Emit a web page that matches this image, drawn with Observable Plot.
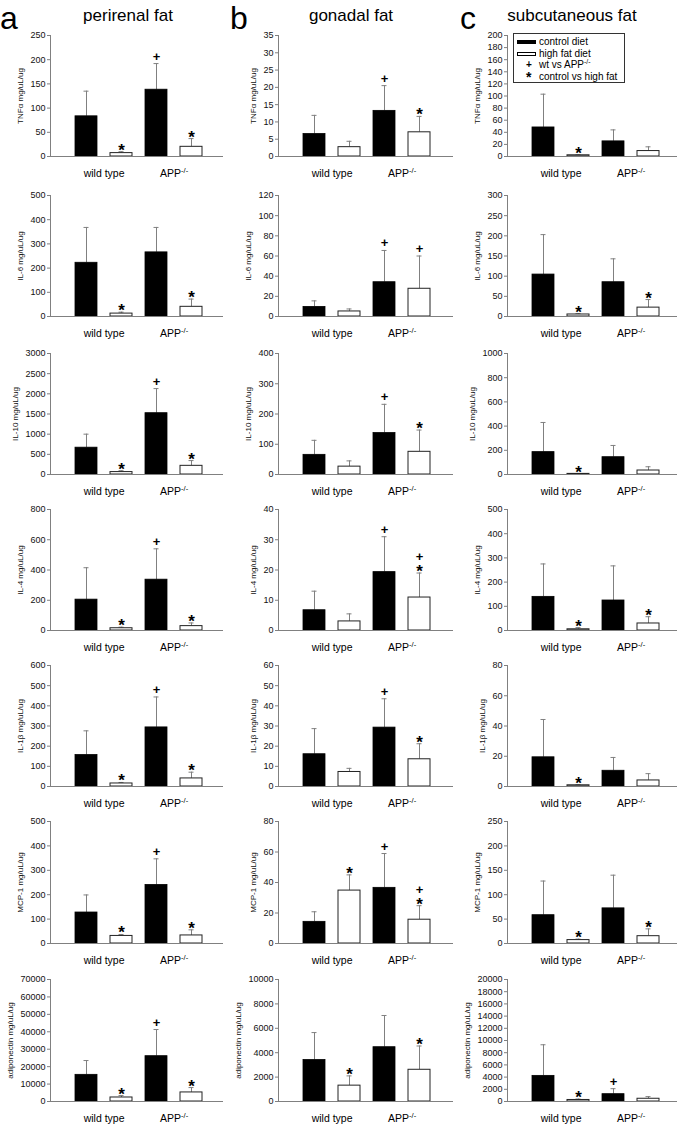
<!DOCTYPE html>
<html><head><meta charset="utf-8">
<script src="https://cdn.jsdelivr.net/npm/d3@7"></script>
<script src="https://cdn.jsdelivr.net/npm/@observablehq/plot@0.6"></script>
<style>
html,body{margin:0;padding:0;background:#fff;}
#fig{position:relative;width:685px;height:1124px;font-family:"Liberation Sans",Arial,sans-serif;color:#000;overflow:hidden;background:#fff;}
.letter{position:absolute;top:0;font-size:32px;line-height:normal;}
.title{position:absolute;font-size:17px;line-height:1;white-space:nowrap;transform:translateX(-50%);}
#fig svg{position:absolute;overflow:visible;}
.legend{position:absolute;border:1px solid #333;background:#fff;font-size:10px;line-height:11.5px;box-sizing:border-box;padding:2px 0 0 0;}
.legend .row{position:relative;height:11.5px;white-space:nowrap;}
.legend .sw{position:absolute;left:3px;top:4px;width:19px;height:4px;box-sizing:border-box;border:1px solid #000;}
.legend .sym{position:absolute;left:12px;top:0;font-weight:bold;}
.legend .txt{position:absolute;left:25px;top:0;}
.legend sup{font-size:7px;vertical-align:4px;line-height:0;}
</style></head><body><div id="fig"></div><script>
const tissues = ["perirenal fat", "gonadal fat", "subcutaneous fat"];
const panelLetters = ["a", "b", "c"];
const analytes = ["TNFα", "IL-6", "IL-10", "IL-4", "IL-1β", "MCP-1", "adiponectin"];
const yUnit = "mg/uL/ug";
const genotypes = ["wild type", "APP-/-"];
const diets = ["control diet", "high fat diet"];
const sigLabels = ["wt vs APP-/-", "control vs high fat"];

// y-axis maximum and tick step, per analyte
const yMaxPerirenal = [250, 500, 3000, 800, 600, 500, 70000];
const yStepPerirenal = [50, 100, 500, 200, 100, 100, 10000];
const yMaxGonadal = [35, 120, 400, 40, 60, 80, 10000];
const yStepGonadal = [5, 20, 100, 10, 10, 20, 2000];
const yMaxSubcutaneous = [200, 300, 1000, 500, 80, 250, 20000];
const yStepSubcutaneous = [20, 50, 200, 100, 20, 50, 2000];

// bars per analyte: [wild type control, wild type high fat, APP-/- control, APP-/- high fat]
const meanPerirenal = [
  [83, 7, 138, 20],
  [222, 12, 265, 40],
  [665, 60, 1520, 215],
  [204, 15, 336, 29],
  [156, 15, 293, 40],
  [127, 31, 240, 33],
  [15300, 2300, 26000, 5200]
];
const errTopPerirenal = [
  [135, 10, 192, 37],
  [368, 18, 368, 72],
  [1000, 95, 2130, 345],
  [415, 22, 540, 50],
  [276, 20, 444, 71],
  [199, 37, 347, 56],
  [23500, 3400, 41300, 8000]
];
const sigPerirenal = [
  ["", "*", "+", "*"],
  ["", "*", "", "*"],
  ["", "*", "+", "*"],
  ["", "*", "+", "*"],
  ["", "*", "+", "*"],
  ["", "*", "+", "*"],
  ["", "*", "+", "*"]
];

const meanGonadal = [
  [6.5, 2.7, 13.2, 7.0],
  [9.5, 5, 34, 27.5],
  [65, 26, 137, 75],
  [6.7, 3, 19.3, 10.9],
  [16, 7.2, 29.2, 13.5],
  [14.2, 34.7, 36.5, 15.6],
  [3400, 1300, 4450, 2600]
];
const errTopGonadal = [
  [11.9, 4.4, 20.5, 11.6],
  [15.5, 7.5, 65.5, 60],
  [113, 45, 232, 147],
  [13, 5.5, 31, 19],
  [28.7, 9, 43.5, 21.2],
  [20.8, 45, 59, 24.8],
  [5650, 2100, 7050, 4550]
];
const sigGonadal = [
  ["", "", "+", "*"],
  ["", "", "+", "+"],
  ["", "", "+", "*"],
  ["", "", "+", "+*"],
  ["", "", "+", "*"],
  ["", "*", "+", "+*"],
  ["", "*", "", "*"]
];

const meanSubcutaneous = [
  [48, 2, 25, 9],
  [104, 5, 85, 22],
  [185, 5, 143, 33],
  [139, 5, 124, 29],
  [19.3, 0.8, 10.4, 4],
  [58, 7, 72, 15],
  [4200, 250, 1200, 450]
];
const errTopSubcutaneous = [
  [103, 3, 44, 16],
  [203, 7, 143, 42],
  [430, 8, 240, 64],
  [275, 12, 267, 57],
  [44.3, 1.3, 19.2, 8.5],
  [128, 9, 140, 30],
  [9300, 400, 2100, 800]
];
const sigSubcutaneous = [
  ["", "*", "", ""],
  ["", "*", "", "*"],
  ["", "*", "", ""],
  ["", "*", "", "*"],
  ["", "*", "", ""],
  ["", "*", "", "*"],
  ["", "*", "+", ""]
];

// ---- assemble per-column tables from the arrays above ----
const yMaxAll = [yMaxPerirenal, yMaxGonadal, yMaxSubcutaneous];
const yStepAll = [yStepPerirenal, yStepGonadal, yStepSubcutaneous];
const meanAll = [meanPerirenal, meanGonadal, meanSubcutaneous];
const errAll = [errTopPerirenal, errTopGonadal, errTopSubcutaneous];
const sigAll = [sigPerirenal, sigGonadal, sigSubcutaneous];
const barKeys = genotypes.flatMap(g => diets.map(d => g + "|" + d));

// ---- layout (pixels) ----
const axisX = [50, 278, 507];
const plotW = [173, 175, 170];
const plotTop = [35, 195, 353, 509, 665, 821, 979];
const plotBottom = [156, 316, 474, 630, 786, 943, 1101];
const M = {left: 50, right: 6, top: 16, bottom: 30};
const barStep = 35.2, barWidth = 22, firstBar = 25;

const fig = document.getElementById("fig");
const svgNS = "http://www.w3.org/2000/svg";

function panel(c, r) {
  const W = plotW[c];
  const H = plotBottom[r] - plotTop[r];
  const pi = (barStep - barWidth) / barStep;
  const outer = W - barStep * (barKeys.length - pi);
  const po = outer / (2 * barStep);
  const align = firstBar / outer;
  const max = yMaxAll[c][r], step = yStepAll[c][r];
  const ticks = d3.range(0, max + step / 2, step);
  const rows = barKeys.map((k, i) => ({
    key: k, diet: i % 2,
    mean: meanAll[c][r][i], top: errAll[c][r][i], sig: sigAll[c][r][i]
  }));
  const marks = [];
  rows.forEach(d => [...d.sig].reverse().forEach((ch, j) => marks.push({key: d.key, top: d.top, ch, level: j})));
  const digits = String(max).length;
  const labelOffset = digits * 5 + 18;
  const groupLabels = genotypes.map((g, i) => ({key: barKeys[2 * i], label: g}));

  const p = Plot.plot({
    width: M.left + W + M.right,
    height: M.top + H + M.bottom,
    marginLeft: M.left, marginRight: M.right, marginTop: M.top, marginBottom: M.bottom,
    style: {fontFamily: '"Liberation Sans", Arial, sans-serif', background: "transparent", overflow: "visible"},
    x: {domain: barKeys, paddingInner: pi, paddingOuter: po, align, axis: null},
    y: {domain: [0, max], axis: null},
    marks: [
      Plot.ruleX(rows, {x: "key", y1: "mean", y2: "top", stroke: "#808080", strokeWidth: 1}),
      Plot.tickY(rows, {x: "key", y: "top", stroke: "#808080", strokeWidth: 1, insetLeft: 8.5, insetRight: 8.5}),
      Plot.barY(rows.filter(d => d.diet === 0), {x: "key", y: "mean", fill: "#000", stroke: "#000", strokeWidth: 0.8}),
      Plot.barY(rows.filter(d => d.diet === 1), {x: "key", y: "mean", fill: "#fff", stroke: "#222", strokeWidth: 1}),
      Plot.ruleY([0], {stroke: "#808080", strokeWidth: 1}),
      Plot.frame({anchor: "left", stroke: "#808080", strokeWidth: 1}),
      Plot.axisY({ticks, tickFormat: d => String(d), tickSize: 3, tickPadding: 2, fontSize: 9, stroke: "#808080", fill: "#111", label: null}),
      Plot.text([analytes[r] + " " + yUnit], {frameAnchor: "left", rotate: -90, dx: -labelOffset, lineAnchor: "top", textAnchor: "middle", fontSize: 8, fill: "#111"}),
      Plot.text(groupLabels, {x: "key", text: "label", frameAnchor: "bottom", dx: barStep / 2, dy: 17, lineAnchor: "middle", fontSize: 10.5, fill: "#000"}),
      Plot.text(marks.filter(m => m.ch === "+" && m.level === 0), {x: "key", y: "top", text: "ch", lineAnchor: "bottom", dy: -3, fontSize: 13, fontWeight: "bold", fill: "#000"}),
      Plot.text(marks.filter(m => m.ch === "+" && m.level === 1), {x: "key", y: "top", text: "ch", lineAnchor: "bottom", dy: -12, fontSize: 13, fontWeight: "bold", fill: "#000"}),
      Plot.text(marks.filter(m => m.ch === "*"), {x: "key", y: "top", text: "ch", lineAnchor: "bottom", dy: 4, fontSize: 17, fontWeight: "bold", fill: "#000"})
    ]
  });
  p.querySelectorAll("text").forEach(t => {
    if (t.textContent === "APP-/-") {
      t.textContent = "APP";
      const ts = document.createElementNS(svgNS, "tspan");
      ts.setAttribute("dy", "-0.45em");
      ts.setAttribute("font-size", "0.72em");
      ts.textContent = "-/-";
      t.appendChild(ts);
    }
  });
  p.style.left = (axisX[c] - M.left) + "px";
  p.style.top = (plotTop[r] - M.top) + "px";
  fig.appendChild(p);
}

for (let c = 0; c < 3; c++) for (let r = 0; r < analytes.length; r++) panel(c, r);

// headers
const letterX = [0, 230, 460];
const titleX = [128, 351, 572];
tissues.forEach((t, c) => {
  const L = document.createElement("div");
  L.className = "letter"; L.textContent = panelLetters[c];
  L.style.left = letterX[c] + "px";
  fig.appendChild(L);
  const T = document.createElement("div");
  T.className = "title"; T.textContent = t;
  T.style.left = titleX[c] + "px"; T.style.top = "7px";
  fig.appendChild(T);
});

// legend
const sup = s => s.replace("-/-", "<sup>-/-</sup>");
const lg = document.createElement("div");
lg.className = "legend";
Object.assign(lg.style, {left: "513px", top: "33px", width: "112px", height: "50px"});
lg.innerHTML =
  `<div class="row"><span class="sw" style="background:#000"></span><span class="txt">${diets[0]}</span></div>` +
  `<div class="row"><span class="sw" style="background:#fff"></span><span class="txt">${diets[1]}</span></div>` +
  `<div class="row"><span class="sym">+</span><span class="txt">${sup(sigLabels[0])}</span></div>` +
  `<div class="row"><span class="sym" style="font-size:14px;top:1px">*</span><span class="txt">${sigLabels[1]}</span></div>`;
fig.appendChild(lg);
</script></body></html>
